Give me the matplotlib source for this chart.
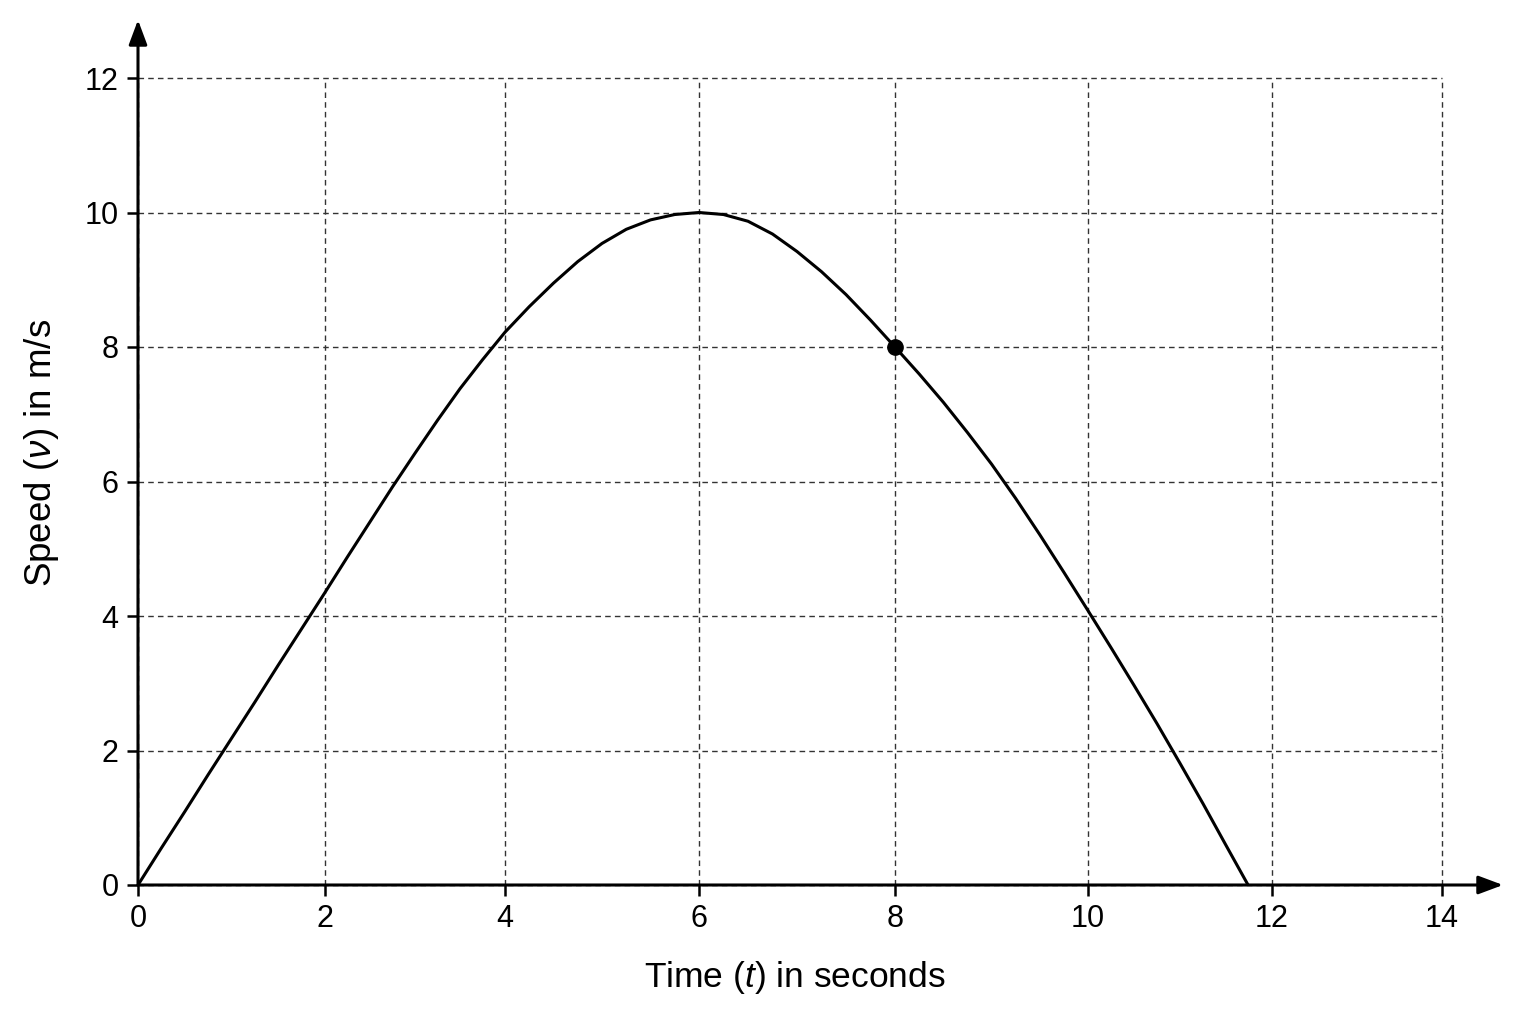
import numpy as np
import matplotlib
matplotlib.use("Agg")
import matplotlib.pyplot as plt

plt.rcParams['font.family'] = ['Liberation Sans', 'DejaVu Sans']
plt.rcParams['mathtext.fontset'] = 'custom'
plt.rcParams['mathtext.rm'] = 'Liberation Sans'
plt.rcParams['mathtext.it'] = 'Liberation Sans:italic'

# values
time_s = [0, 0.25, 0.5, 0.75, 1, 1.25, 1.5, 1.75, 2, 2.25, 2.5, 2.75,
          3, 3.25, 3.5, 3.75, 4, 4.25, 4.5, 4.75, 5, 5.25, 5.5, 5.75, 6,
          6.25, 6.5, 6.75, 7, 7.25, 7.5, 7.75, 8, 8.25, 8.5, 8.75,
          9, 9.25, 9.5, 9.75, 10, 10.25, 10.5, 10.75, 11, 11.25, 11.5, 11.74]
speed = [0, 0.55, 1.09, 1.64, 2.18, 2.72, 3.27, 3.81, 4.35, 4.88, 5.4, 5.92,
         6.42, 6.91, 7.38, 7.81, 8.22, 8.6, 8.95, 9.27, 9.54, 9.75, 9.89, 9.97, 10,
         9.97, 9.87, 9.68, 9.42, 9.12, 8.78, 8.4, 8.0, 7.6, 7.18, 6.73,
         6.26, 5.75, 5.21, 4.65, 4.08, 3.53, 2.97, 2.4, 1.81, 1.21, 0.59, 0]
point_t = [8]
point_v = [8]
x_ticks = [0, 2, 4, 6, 8, 10, 12, 14]
y_ticks = [0, 2, 4, 6, 8, 10, 12]

# the grid columns in the picture are not evenly spaced, so map them piecewise
col_edges = [138, 325, 505, 699, 895, 1088, 1272, 1442]

def fwd(x):
    return np.interp(x, x_ticks, col_edges)

def inv(x):
    return np.interp(x, col_edges, x_ticks)

fig = plt.figure(figsize=(15.36, 10.24), dpi=100)
ax = fig.add_axes([138/1536, 1 - 885/1024, (1442-138)/1536, (885-78)/1024])
ax.set_xscale('function', functions=(fwd, inv))
ax.set_xlim(0, 14)
ax.set_ylim(0, 12)

ax.grid(True, color='#333333', linestyle=(0, (4, 3)), linewidth=1.0)
ax.set_axisbelow(True)

ax.plot(time_s, speed, color='black', linewidth=2.2, solid_joinstyle='round', zorder=3)
ax.plot(point_t, point_v, 'o', color='black', markersize=11, zorder=4)

ax.set_xticks(x_ticks)
ax.set_yticks(y_ticks)
ax.set_xticklabels([str(t) for t in x_ticks])
ax.set_yticklabels([str(t) for t in y_ticks])
ax.tick_params(axis='both', direction='out', length=8, width=1.8, labelsize=22, colors='black')
ax.tick_params(axis='x', pad=6)
ax.tick_params(axis='y', pad=6)

# grid lines sitting on the limits should not be cut in half
for gl in ax.get_xgridlines() + ax.get_ygridlines():
    gl.set_clip_on(False)

for s in ['top', 'right', 'left', 'bottom']:
    ax.spines[s].set_visible(False)

# axis lines with arrow heads
x_end = (1503 - 138) / (1442 - 138)
y_end = (885 - 20) / (885 - 78)
arrow_style = dict(arrowstyle='-|>,head_length=0.75,head_width=0.28', color='black',
                   lw=2.2, mutation_scale=20, shrinkA=0, shrinkB=0)
ax.annotate('', xy=(x_end, 0), xytext=(0, 0), xycoords='axes fraction',
            arrowprops=arrow_style, annotation_clip=False)
ax.annotate('', xy=(0, y_end), xytext=(0, 0), xycoords='axes fraction',
            arrowprops=arrow_style, annotation_clip=False)

ax.text((795-138)/(1442-138), -(977-885)/(885-78), 'Time ($t$) in seconds',
        transform=ax.transAxes, ha='center', va='center', fontsize=25.5)
ax.text((42-138)/(1442-138), (885-453)/(885-78), 'Speed ($\\nu$) in m/s',
        transform=ax.transAxes, ha='center', va='center', rotation=90, fontsize=26.5)

fig.savefig('out.png', dpi=100, facecolor='white')
